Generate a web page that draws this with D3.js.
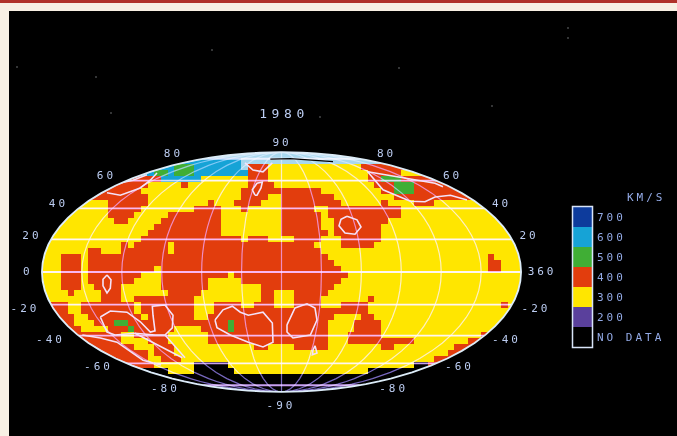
<!DOCTYPE html>
<html lang="en">
	<head>
		<meta charset="utf-8">
		<title>D3: Mollweide map 1980</title>
		<script type="text/javascript" src="https://d3js.org/d3.v7.min.js"></script>
		<style type="text/css">
			html, body {
				margin: 0;
				padding: 0;
				background: #f8f0e4;
				overflow: hidden;
			}
			svg {
				display: block;
			}
			.label {
				font-family: "DejaVu Sans Mono", monospace;
				font-size: 11px;
				letter-spacing: 3px;
				fill: #bccdf2;
				text-anchor: middle;
				dominant-baseline: central;
			}
			.title {
				font-size: 13px;
				letter-spacing: 4.6px;
			}
			.legend-label {
				fill: #93aae6;
				text-anchor: start;
			}
			.grat {
				mix-blend-mode: screen;
			}
		</style>
	</head>

	<body>
		<div id="chart"></div>
		<script type="text/javascript">
			//Map cells, one string per 6px row from the top of the map: letter + column where the run ends
			var gridRows = [
				"W72",
				"C30 W72",
				"C20 G23 C30 W31 R34 Y48 R72",
				"C17 G19 C20 G23 C31 R34 Y49 R54 Y72",
				"R18 C24 Y31 R34 Y49 R51 G54 R72",
				"R16 Y21 R22 Y31 R35 Y50 R53 G56 R72",
				"R15 Y30 R42 Y51 R53 G56 R72",
				"R16 Y30 R34 Y36 R44 Y53 R72",
				"Y10 R16 Y25 R26 Y29 R33 Y36 R45 Y51 R52 Y56 R59 Y72",
				"Y10 R15 Y23 R27 Y30 R31 Y36 R41 Y43 R54 Y72",
				"Y10 R14 Y19 R27 Y36 R42 Y43 R54 Y72",
				"Y11 R13 Y18 R27 Y36 R42 Y44 R52 Y72",
				"Y17 R27 Y36 R42 Y44 R51 Y72",
				"Y16 R27 Y36 R43 Y44 R51 Y72",
				"Y15 R30 Y31 R34 Y38 R42 Y45 R51 Y72",
				"Y12 R13 Y14 R19 Y20 R41 Y45 R50 Y72",
				"Y7 R9 Y12 R19 Y20 R42 Y72",
				"Y3 R6 Y7 R43 Y67 R68 Y72",
				"Y3 R6 Y7 R44 Y67 R69 Y72",
				"Y3 R6 Y7 R17 Y18 R45 Y67 R69 Y72",
				"Y3 R6 Y7 R15 Y18 R28 Y29 R46 Y72",
				"Y3 R6 Y7 R14 Y18 R25 Y30 R45 Y72",
				"Y3 R6 Y8 R12 Y18 R25 Y33 R44 Y72",
				"Y4 R5 Y9 R12 Y19 R24 Y33 R35 Y38 R43 Y72",
				"Y9 R12 Y14 R23 Y33 R35 Y38 R42 Y49 R50 Y72",
				"R4 Y6 R14 Y15 R23 Y26 R30 Y32 R35 Y38 R42 Y45 R49 Y69 R70 Y72",
				"R4 Y6 R14 Y15 R23 Y26 R49 Y72",
				"R5 Y7 R15 Y16 R23 Y25 R44 Y48 R50 Y72",
				"R5 Y8 R11 G13 R28 G29 R43 Y47 R51 Y72",
				"R6 Y10 R13 G14 R20 Y24 R28 G29 R43 Y47 R51 Y72",
				"R12 Y14 R19 Y25 R43 Y46 R51 Y66 R72",
				"R12 Y16 R19 Y25 R43 Y46 R56 Y64 R72",
				"R14 Y17 R20 Y32 R34 Y38 R43 Y51 R53 Y62 R72",
				"R16 Y17 R20 Y61 R72",
				"R16 Y18 R21 Y59 R72",
				"R17 Y23 N28 Y56 N58 R72",
				"N19 Y23 N29 Y49 N72",
				"N72",
				"N72",
				"N72"
			];

			//Contour lines, as column,row pairs on the same grid
			var contours = [
				[[9.9,20.5],[10.5,21.3],[10.4,22.7],[9.9,23.5],[9.3,22.3],[9.3,21.2],[9.9,20.5]],
				[[8.9,27.5],[10.4,26.5],[12.9,26.7],[14.9,28.3],[16.4,30],[17.1,29.8],[16.8,27.2],[16.7,25.7],[18.6,25.5],[19.8,27.2],[19.7,29.3],[18.6,30.5],[17.1,30.5],[14.1,30.2],[11.1,30.5],[9.9,30],[8.9,27.5]],
				[[18.6,30.5],[21.6,34.3]],
				[[14.1,30.2],[21.2,34.3]],
				[[6.2,30.5],[8.9,31],[11.4,31.7],[15.3,34.7],[18,35.5]],
				[[26.1,28],[27.3,26.3],[28.7,25.7],[29.9,26.7],[31.1,27.2],[33.3,26.7],[34.7,28.5],[34.8,31.7],[33.3,32.5],[31.1,31.7],[28.4,30.5],[26.4,29.3],[26.1,28]],
				[[36.9,28.8],[38.1,26],[39.9,25.3],[41.1,26],[41.4,28],[40.4,30.5],[37.8,31],[36.9,30],[36.9,28.8]],
				[[41.1,32.3],[41.4,33.5],[40.7,33.8],[40.8,33],[41.1,32.3]],
				[[45.9,10.7],[47.4,11.3],[48,12.5],[47.1,13.7],[45.6,13.5],[44.7,12.3],[45,11.2],[45.9,10.7]],
				[[49,3.3],[51.3,6.3],[55.4,8.2],[57.6,8.3],[59.1,7.5],[61.4,7.2],[63.9,8]],
				[[49,3.3],[54.3,4.3],[59.1,5.2],[60.3,5.8]],
				[[9.9,6.8],[11.9,7.2],[14.9,6],[16.4,4.7],[17.4,3.5]],
				[[10.4,5.5],[13.8,4.7],[15.9,3.8]],
				[[32.1,7.2],[31.7,6.3],[32.4,5.2],[33.2,5],[33,6],[32.4,7.2],[32.1,7.2]],
				[[30.6,1.8],[31.8,3],[33.3,3.3],[34.7,1.8]]
			];
			var blackStreak = [[34.4,1.2],[37.4,1.1],[43.8,1.6]];

			//Legend and axis text
			var legendCodes = ["B", "C", "G", "R", "Y", "P", "N"];
			var legendLabels = ["700", "600", "500", "400", "300", "200", "NO DATA"];
			var latTicks = [80, 60, 40, 20, 0, -20, -40, -60, -80];
			var leftLatLabels = ["80", "60", "40", "20", "0", "-20", "-40", "-60", "-80"];
			var rightLatLabels = ["80", "60", "40", "20", "360", "-20", "-40", "-60", "-80"];

			//Width and height
			const width = 677;
			const height = 436;

			//Colours of the cells (W is the pale smear around the contours at the pole)
			var cellColor = d3.scaleOrdinal()
				.domain(["B", "C", "G", "R", "Y", "P", "N", "W"])
				.range(["#0b3a9c", "#12a3d6", "#3fae35", "#e23c0a", "#ffe600", "#5a3f9c", "#000000", "#a8d8ee"]);

			const svg = d3.select("#chart")
				.append("svg")
				.attr("width", width)
				.attr("height", height);

			//Page: cream paper, red stripe, black screen
			svg.append("rect").attr("x", 0).attr("y", 0).attr("width", width).attr("height", 3).attr("fill", "#b0322a");
			svg.append("rect").attr("x", 9).attr("y", 11).attr("width", width - 9).attr("height", height - 11).attr("fill", "#000");

			var defs = svg.append("defs");
			defs.append("filter").attr("id", "soft")
				.append("feGaussianBlur").attr("stdDeviation", 0.45);
			defs.append("filter").attr("id", "softer")
				.append("feGaussianBlur").attr("stdDeviation", 0.3);

			//Dust on the photographed screen
			var specks = [[212, 50], [17, 67], [96, 77], [399, 68], [111, 113], [492, 106], [568, 28], [568, 38], [320, 117]];
			svg.append("g").selectAll("circle")
				.data(specks)
				.enter()
				.append("circle")
				.attr("cx", function(d) { return d[0]; })
				.attr("cy", function(d) { return d[1]; })
				.attr("r", 0.8)
				.attr("fill", "#77797c");

			//Mollweide, not part of core d3
			function mollweideRaw(lambda, phi) {
				var t = phi;
				var target = Math.PI * Math.sin(phi);
				for (var i = 0; i < 30; i++) {
					var den = 1 + Math.cos(t);
					if (den < 1e-9) break;
					t -= (t + Math.sin(t) - target) / den;
				}
				var theta = t / 2;
				return [2 * Math.SQRT2 / Math.PI * lambda * Math.cos(theta), Math.SQRT2 * Math.sin(theta)];
			}

			var projection = d3.geoProjection(mollweideRaw)
				.scale(84.7)
				.translate([281.5, 272])
				.precision(0.2);
			var path = d3.geoPath(projection);

			//Grid scales
			var xScale = d3.scaleLinear().domain([0, 72]).range([41, 521]);
			var yScale = d3.scaleLinear().domain([0, gridRows.length]).range([152, 392]);

			defs.append("clipPath").attr("id", "globe")
				.append("path").attr("d", path({ type: "Sphere" }));

			var map = svg.append("g").attr("filter", "url(#soft)");
			var cells = map.append("g").attr("clip-path", "url(#globe)");

			//Add cells
			var runs = [];
			gridRows.forEach(function(row, r) {
				var start = 0;
				row.split(" ").forEach(function(token) {
					var end = +token.slice(1);
					runs.push({ row: r, start: start, end: end, code: token[0] });
					start = end;
				});
			});

			cells.selectAll("rect")
				.data(runs)
				.enter()
				.append("rect")
				.attr("x", function(d) { return xScale(d.start); })
				.attr("y", function(d) { return yScale(d.row); })
				.attr("width", function(d) { return xScale(d.end) - xScale(d.start); })
				.attr("height", function(d) { return yScale(d.row + 1) - yScale(d.row); })
				.attr("fill", function(d) { return cellColor(d.code); })
				.attr("shape-rendering", "crispEdges");

			//Graticule
			var graticule = d3.geoGraticule()
				.stepMajor([30, 360])
				.stepMinor([360, 20])
				.extentMinor([[-180, -80.001], [180, 80.001]]);

			var lines = graticule.lines();
			cells.selectAll("path")
				.data(lines)
				.enter()
				.append("path")
				.attr("class", "grat")
				.attr("d", path)
				.attr("fill", "none")
				.attr("stroke", function(d) { return d.coordinates[0][0] === d.coordinates[1][0] ? "#7868c0" : "#c8a0f0"; })
				.attr("stroke-width", function(d) { return d.coordinates[0][0] === d.coordinates[1][0] ? 1.2 : 1.8; });

			//Contours
			var contourLine = d3.line()
				.x(function(d) { return xScale(d[0]); })
				.y(function(d) { return yScale(d[1]); });

			map.append("g").attr("clip-path", "url(#globe)")
				.selectAll("path")
				.data(contours)
				.enter()
				.append("path")
				.attr("d", contourLine)
				.attr("fill", "none")
				.attr("stroke", "#f4e2fa")
				.attr("stroke-width", 1.6);

			map.append("path")
				.attr("d", contourLine(blackStreak))
				.attr("fill", "none")
				.attr("stroke", "#000")
				.attr("stroke-width", 1.3);

			//Rim
			map.append("path")
				.attr("d", path({ type: "Sphere" }))
				.attr("fill", "none")
				.attr("stroke", "#dcecf8")
				.attr("stroke-width", 1.8);

			var textLayer = svg.append("g").attr("filter", "url(#softer)");

			//Title
			textLayer.append("text")
				.attr("class", "label title")
				.attr("x", 284)
				.attr("y", 113)
				.text("1980");

			//Latitude labels, hung off the rim
			var leftGap = [-30, -20, -20, -19, -14, -26, -28, -28, -38];
			var rightGap = [27, 16, 17, 17, 21, 24, 22, 23, 34];
			var liftGap = [-5, -5, -5, -4, -1, 4, 4, 3, 3];

			textLayer.selectAll(".lat-left")
				.data(latTicks)
				.enter()
				.append("text")
				.attr("class", "label lat-left")
				.attr("x", function(d, i) { return projection([-180, d])[0] + leftGap[i]; })
				.attr("y", function(d, i) { return projection([-180, d])[1] + liftGap[i]; })
				.text(function(d, i) { return leftLatLabels[i]; });

			textLayer.selectAll(".lat-right")
				.data(latTicks)
				.enter()
				.append("text")
				.attr("class", "label lat-right")
				.attr("x", function(d, i) { return projection([179.999, d])[0] + rightGap[i]; })
				.attr("y", function(d, i) { return projection([179.999, d])[1] + liftGap[i]; })
				.text(function(d, i) { return rightLatLabels[i]; });

			//Poles
			textLayer.append("text").attr("class", "label").attr("x", 282).attr("y", 142).text("90");
			textLayer.append("text").attr("class", "label").attr("x", 281).attr("y", 405).text("-90");

			//Legend
			var legendScale = d3.scaleBand()
				.domain(legendCodes)
				.range([207, 347]);

			var legend = svg.append("g");
			legend.selectAll("rect")
				.data(legendCodes)
				.enter()
				.append("rect")
				.attr("x", 573)
				.attr("y", function(d) { return legendScale(d); })
				.attr("width", 19)
				.attr("height", legendScale.bandwidth())
				.attr("fill", function(d) { return cellColor(d); })
				.attr("filter", "url(#soft)");

			legend.append("rect")
				.attr("x", 572.5)
				.attr("y", 206.5)
				.attr("width", 20)
				.attr("height", 141)
				.attr("fill", "none")
				.attr("stroke", "#d8e4f8")
				.attr("stroke-width", 1.5);

			textLayer.selectAll(".legend-label")
				.data(legendLabels)
				.enter()
				.append("text")
				.attr("class", "label legend-label")
				.attr("x", 597)
				.attr("y", function(d, i) { return legendScale(legendCodes[i]) + 10; })
				.text(function(d) { return d; });

			textLayer.append("text")
				.attr("class", "label legend-label")
				.attr("x", 627)
				.attr("y", 197)
				.text("KM/S");
		</script>
	</body>
</html>
